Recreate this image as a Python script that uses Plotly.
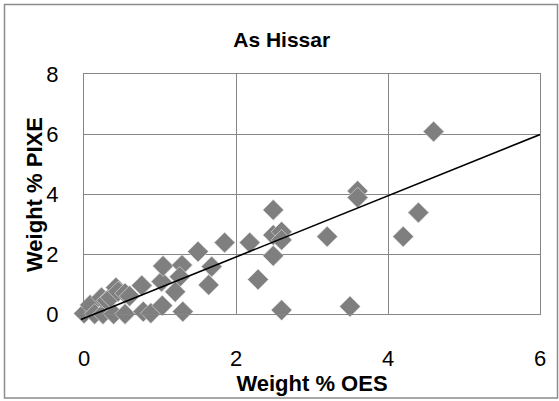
import plotly.graph_objects as go

# Data (Weight % OES vs Weight % PIXE)
oes = [0.00, 0.08, 0.14, 0.25, 0.39, 0.54, 0.23, 0.30, 0.35, 0.42, 0.45, 0.54, 0.60,
       0.76, 0.78, 0.88, 1.03, 1.02, 1.04, 1.29, 1.26, 1.20, 1.30, 1.50, 1.68, 1.64,
       1.85, 2.18, 2.29, 2.49, 2.49, 2.60, 2.60, 2.49, 2.60, 3.20, 3.50, 3.60, 3.60,
       4.20, 4.40, 4.60]
pixe = [0.02, 0.30, 0.00, 0.00, 0.00, 0.00, 0.55, 0.45, 0.55, 0.88, 0.75, 0.69, 0.60,
        0.95, 0.08, 0.03, 0.28, 1.08, 1.60, 1.63, 1.24, 0.74, 0.08, 2.08, 1.58, 0.97,
        2.38, 2.38, 1.15, 3.47, 2.63, 2.74, 2.47, 1.94, 0.13, 2.58, 0.25, 4.10, 3.88,
        2.58, 3.38, 6.08]

# Linear trend line
trend_slope = 1.02
trend_intercept = -0.14
trend_x = [-0.04, 6.0]
trend_y = [trend_slope * v + trend_intercept for v in trend_x]

x_ticks = [0, 2, 4, 6]
y_ticks = [0, 2, 4, 6, 8]

FONT = "Liberation Sans"
GRID = "#868686"

W, H = 559, 401
L, R, T, B = 74, 19, 74, 77          # outer (overlay) area
pad_l, pad_b = 10, 10                 # extra room so the trend line can run past the axes
pw, ph = W - L - R, H - T - B         # 466 x 250
x_unit = (pw - pad_l) / 6.0           # px per x unit
y_unit = (ph - pad_b) / 8.0           # px per y unit


def px_x(p):
    return (p - L) / pw


def px_y(p):
    return (H - B - p) / ph


fig = go.Figure()
fig.add_trace(go.Scatter(
    x=oes, y=pixe, mode="markers", xaxis="x", yaxis="y",
    marker=dict(symbol="diamond", size=16, color="#7f7f7f",
                line=dict(width=0.6, color="#e6e6e6")),
    showlegend=False, cliponaxis=False, hoverinfo="skip"))
fig.add_trace(go.Scatter(
    x=trend_x, y=trend_y, mode="lines", xaxis="x2", yaxis="y2",
    line=dict(color="black", width=1.6),
    showlegend=False, hoverinfo="skip"))

fig.update_layout(
    width=W, height=H,
    margin=dict(l=L, r=R, t=T, b=B, autoexpand=False),
    paper_bgcolor="white", plot_bgcolor="rgba(0,0,0,0)",
    font=dict(family=FONT, color="black", size=22),
    title=dict(text="<b>As Hissar</b>", x=281.7 / W, xref="container", xanchor="center",
               y=1 - 40 / H, yref="container", yanchor="middle",
               font=dict(family=FONT, size=21, color="black")),
    xaxis=dict(domain=[pad_l / pw, 1], range=[0, 6], tickvals=x_ticks, showgrid=True,
               gridcolor=GRID, gridwidth=1.3, showline=True, mirror=True, linecolor=GRID,
               linewidth=1.3, zeroline=False, ticks="", ticklabelstandoff=24,
               tickfont=dict(family=FONT, size=22), anchor="y",
               title=dict(text="<b>Weight % OES</b>", standoff=3,
                          font=dict(family=FONT, size=22))),
    yaxis=dict(domain=[pad_b / ph, 1], range=[0, 8], tickvals=y_ticks, showgrid=True,
               gridcolor=GRID, gridwidth=1.3, showline=True, mirror=True, linecolor=GRID,
               linewidth=1.3, zeroline=False, ticks="", ticklabelstandoff=20,
               tickfont=dict(family=FONT, size=22), anchor="x"),
    xaxis2=dict(domain=[0, 1], range=[-pad_l / x_unit, 6], visible=False, anchor="y2"),
    yaxis2=dict(domain=[0, 1], range=[-pad_b / y_unit, 8], visible=False, anchor="x2"),
    annotations=[dict(text="<b>Weight % PIXE</b>", xref="paper", yref="paper",
                      x=px_x(34), y=px_y(195), xanchor="center", yanchor="middle",
                      textangle=-90, showarrow=False,
                      font=dict(family=FONT, size=22, color="black"))],
    shapes=[dict(type="rect", xref="paper", yref="paper",
                 x0=px_x(4.5), x1=px_x(557.5), y0=px_y(398), y1=px_y(4.5),
                 line=dict(color="#8c8c8c", width=1.5), layer="above")],
)

fig.write_html("out.html", config={"displayModeBar": False},
               post_script="document.body.style.margin='0';document.body.style.padding='0';")
